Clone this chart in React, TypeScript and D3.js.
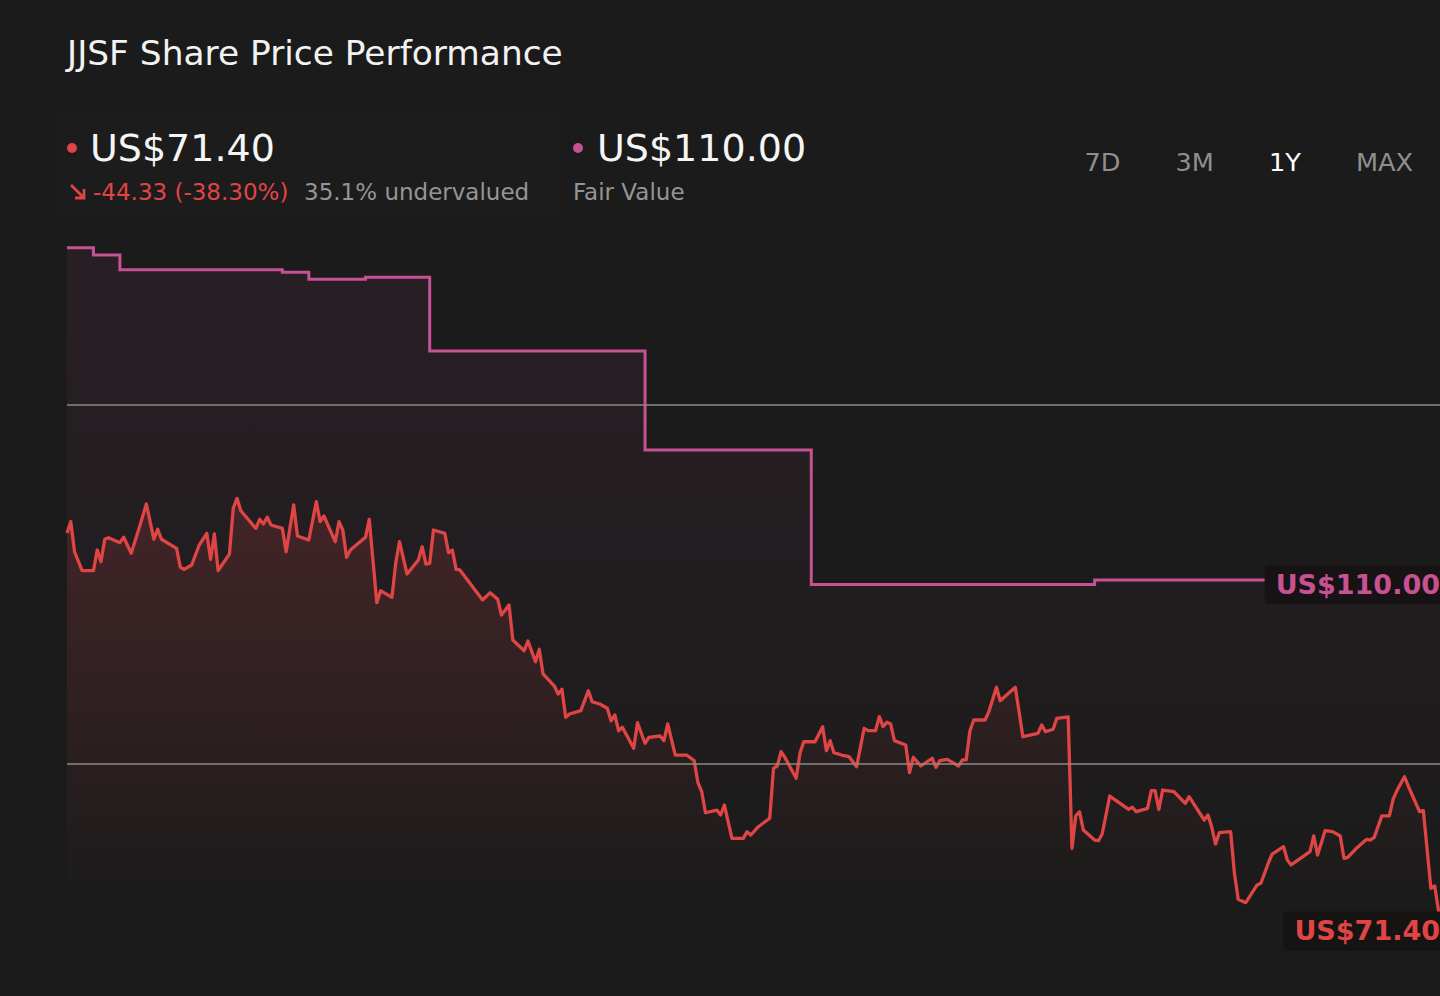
import { useEffect, useRef } from 'react';
import * as d3 from 'd3';

// header figures
const ticker = 'JJSF';
const lastPrice = 71.4;
const priceChange = -44.33;
const priceChangePct = -38.3;
const fairValueNow = 110.0;
const undervaluedPct = 35.1;
const periods = ['7D', '3M', '1Y', 'MAX'];
const activePeriod = '1Y';
const gridValues = [90, 130];

// [day of the 1Y window, close in US$]
const sharePrice: [number, number][] = [
    [0, 115.73], [1, 117.0], [2, 113.65], [4, 111.54], [7, 111.54], [8, 113.84], [9, 112.54], [10, 115.04],
    [11, 115.21], [14, 114.66], [15, 115.26], [17, 113.48], [19, 116.15], [21, 118.97], [23, 115.04], [24, 116.15],
    [25, 115.04], [29, 114.03], [30, 111.92], [31, 111.69], [33, 112.17], [35, 114.4], [37, 115.7], [38, 112.81],
    [39, 115.63], [40, 111.54], [43, 113.4], [44, 118.49], [45, 119.6], [46, 118.22], [50, 116.26], [51, 117.26],
    [52, 116.74], [53, 117.49], [54, 116.63], [57, 116.26], [58, 113.65], [60, 118.86], [61, 115.4], [64, 114.96],
    [66, 119.23], [67, 117.0], [68, 117.63], [71, 114.77], [72, 117.0], [73, 116.07], [74, 113.03], [75, 113.84],
    [79, 115.26], [80, 117.26], [82, 107.97], [83, 109.31], [86, 108.57], [87, 112.36], [88, 114.77], [90, 111.17],
    [93, 112.73], [94, 114.21], [95, 112.28], [96, 112.36], [97, 116.07], [100, 115.7], [101, 113.54], [102, 113.84],
    [103, 111.69], [104, 111.62], [110, 108.27], [112, 109.09], [114, 108.35], [115, 106.6], [117, 107.72], [118, 103.82],
    [121, 102.62], [122, 103.7], [124, 101.4], [125, 102.78], [126, 100.03], [129, 98.69], [130, 97.8], [131, 98.32],
    [132, 95.2], [133, 95.57], [136, 95.94], [138, 98.17], [139, 96.94], [141, 96.69], [143, 96.21], [144, 94.82],
    [145, 95.46], [146, 93.71], [147, 94.09], [150, 91.75], [151, 94.6], [153, 92.31], [154, 92.97], [157, 93.12],
    [158, 92.6], [159, 94.46], [161, 91.0], [164, 91.0], [166, 90.37], [167, 87.92], [168, 86.91], [169, 84.57],
    [172, 84.87], [173, 84.32], [174, 85.43], [176, 81.72], [179, 81.72], [180, 82.46], [181, 82.09], [183, 83.01],
    [186, 83.95], [187, 89.52], [188, 89.78], [189, 91.37], [190, 90.75], [193, 88.41], [194, 91.19], [195, 92.48],
    [198, 92.48], [200, 94.16], [201, 91.48], [202, 92.6], [203, 91.26], [205, 91.0], [207, 90.81], [209, 89.7],
    [210, 91.86], [211, 93.98], [212, 93.71], [214, 93.71], [215, 95.27], [216, 94.16], [217, 94.65], [218, 94.46],
    [219, 92.6], [222, 92.12], [223, 89.03], [224, 90.75], [226, 89.78], [229, 90.64], [230, 89.63], [231, 90.37],
    [233, 90.52], [236, 89.78], [237, 90.45], [238, 90.45], [239, 93.71], [240, 94.9], [243, 94.9], [244, 95.83],
    [246, 98.55], [247, 97.05], [251, 98.55], [252, 95.83], [253, 93.04], [257, 93.42], [258, 94.35], [259, 93.6],
    [261, 93.87], [262, 95.09], [265, 95.24], [266, 80.61], [267, 84.21], [268, 84.69], [269, 82.65], [272, 81.53],
    [273, 81.45], [274, 82.2], [276, 86.43], [281, 84.95], [282, 85.18], [283, 84.69], [286, 85.06], [287, 87.03],
    [288, 87.03], [289, 84.95], [290, 87.1], [293, 86.91], [296, 85.62], [297, 86.36], [301, 83.76], [302, 84.32],
    [303, 82.95], [304, 81.09], [305, 82.35], [308, 82.46], [309, 77.82], [310, 74.93], [312, 74.55], [315, 76.52],
    [316, 76.71], [318, 79.0], [319, 79.97], [322, 80.79], [323, 79.3], [324, 78.75], [329, 80.23], [330, 81.98],
    [331, 79.86], [333, 82.57], [335, 82.46], [337, 81.98], [338, 79.49], [339, 79.6], [341, 80.5], [344, 81.61],
    [345, 81.53], [346, 81.83], [348, 84.21], [350, 84.21], [351, 86.07], [352, 87.03], [354, 88.58], [355, 87.55],
    [358, 84.69], [359, 84.8], [361, 76.15], [362, 76.41], [363, 73.73], [365, 71.4],
];

// fair value estimate changes (step series)
const fairValue: [number, number][] = [
    [0, 147.53], [7, 146.71], [14, 145.08], [57, 144.79], [64, 144.0], [79, 144.23],
    [96, 136.02], [153, 125.0], [197, 110.0], [272, 110.5],
];

const W = 1440;
const H = 996;
const BG = '#1b1b1b';
const RED = '#e04545';
const PINK = '#c65193';
const GREY = '#959595';
const FONT = '"DejaVu Sans", Verdana, sans-serif';

export default function App() {
    const svgRef = useRef<SVGSVGElement>(null);

    useEffect(() => {
        if (!svgRef.current) return;
        const svg = d3.select(svgRef.current);
        svg.selectAll('*').remove();
        svg.attr('font-family', FONT);

        const x = d3.scaleLinear().domain([0, 365]).range([67, 1446]);
        const y = d3.scaleLinear().domain([90, 130]).range([764, 405]);
        const plotBottom = 900;

        svg.append('rect').attr('width', W).attr('height', H).attr('fill', BG);

        const defs = svg.append('defs');
        const grad = (id: string, color: string, top: number, op: number) => {
            const g = defs.append('linearGradient').attr('id', id)
                .attr('gradientUnits', 'userSpaceOnUse')
                .attr('x1', 0).attr('x2', 0).attr('y1', top).attr('y2', plotBottom);
            g.append('stop').attr('offset', 0).attr('stop-color', color).attr('stop-opacity', op);
            g.append('stop').attr('offset', 1).attr('stop-color', color).attr('stop-opacity', 0);
        };
        grad('fvFill', PINK, 240, 0.08);
        grad('pxFill', RED, 500, 0.17);

        // Header
        svg.append('text')
            .attr('x', 67).attr('y', 65)
            .attr('font-size', 34.4).attr('fill', '#f2f2f2')
            .text(`${ticker} Share Price Performance`);

        svg.append('rect')
            .attr('x', 58).attr('y', 114).attr('width', 500).attr('height', 100)
            .attr('fill', '#ffffff').attr('opacity', 0.007);

        svg.append('circle').attr('cx', 72).attr('cy', 148).attr('r', 5).attr('fill', RED);
        svg.append('text')
            .attr('x', 90).attr('y', 161).attr('font-size', 38).attr('fill', '#f5f5f5')
            .text(`US$${lastPrice.toFixed(2)}`);

        svg.append('path')
            .attr('d', 'M71,185 L84,198 M84,189 L84,198 L75,198')
            .attr('stroke', RED).attr('stroke-width', 2.8).attr('fill', 'none');
        svg.append('text')
            .attr('x', 93).attr('y', 200).attr('font-size', 23).attr('fill', RED)
            .text(`${priceChange.toFixed(2)} (${priceChangePct.toFixed(2)}%)`);
        svg.append('text')
            .attr('x', 304).attr('y', 200).attr('font-size', 23).attr('fill', GREY)
            .text(`${undervaluedPct.toFixed(1)}% undervalued`);

        svg.append('circle').attr('cx', 578).attr('cy', 148).attr('r', 5).attr('fill', PINK);
        svg.append('text')
            .attr('x', 597).attr('y', 161).attr('font-size', 38).attr('fill', '#f5f5f5')
            .text(`US$${fairValueNow.toFixed(2)}`);
        svg.append('text')
            .attr('x', 573).attr('y', 200).attr('font-size', 23).attr('fill', GREY)
            .text('Fair Value');

        // period selector, laid out right to left
        let right = 1413;
        [...periods].reverse().forEach(p => {
            const t = svg.append('text')
                .attr('y', 171).attr('font-size', 25.6)
                .attr('fill', p === activePeriod ? '#ffffff' : '#8f8f8f')
                .attr('text-anchor', 'end')
                .attr('x', right)
                .text(p);
            const w = (t.node() as SVGTextElement).getComputedTextLength();
            right -= w + 55;
        });

        // Series
        const fvData: [number, number][] = [...fairValue, [365, fairValue[fairValue.length - 1][1]]];

        const fvArea = d3.area<[number, number]>()
            .curve(d3.curveStepAfter)
            .x(d => x(d[0])).y0(plotBottom).y1(d => y(d[1]));
        const fvLine = d3.line<[number, number]>()
            .curve(d3.curveStepAfter)
            .x(d => x(d[0])).y(d => y(d[1]));

        const pxArea = d3.area<[number, number]>()
            .x(d => x(d[0])).y0(plotBottom).y1(d => y(d[1]));
        const pxLine = d3.line<[number, number]>()
            .x(d => x(d[0])).y(d => y(d[1]));

        svg.append('path').attr('d', fvArea(fvData)).attr('fill', 'url(#fvFill)');
        svg.append('path').attr('d', pxArea(sharePrice)).attr('fill', 'url(#pxFill)');

        svg.append('path').attr('d', fvLine(fvData))
            .attr('fill', 'none').attr('stroke', PINK).attr('stroke-width', 3);
        svg.append('path').attr('d', pxLine(sharePrice))
            .attr('fill', 'none').attr('stroke', RED).attr('stroke-width', 3.3)
            .attr('stroke-linejoin', 'round');

        // grid
        svg.append('g').selectAll('line').data(gridValues).enter().append('line')
            .attr('x1', x(0)).attr('x2', W)
            .attr('y1', d => y(d)).attr('y2', d => y(d))
            .attr('stroke', '#8b8b7e').attr('stroke-width', 1.5);

        // end labels, right edge just past the last day
        const chip = (value: number, color: string, bg: string) => {
            const g = svg.append('g');
            const rect = g.append('rect');
            const t = g.append('text')
                .attr('font-size', 27).attr('font-weight', 'bold').attr('fill', color)
                .attr('dominant-baseline', 'central')
                .attr('y', y(value))
                .text(`US$${value.toFixed(2)}`);
            const w = (t.node() as SVGTextElement).getComputedTextLength();
            const bx = x(365) + 5 - w - 22;
            t.attr('x', bx + 11);
            rect.attr('x', bx).attr('y', y(value) - 19.5).attr('width', w + 22).attr('height', 39)
                .attr('rx', 4).attr('fill', bg);
        };
        chip(fairValueNow, PINK, '#171315');
        chip(lastPrice, RED, '#161313');
    }, []);

    return (
        <div style={{ position: 'absolute', left: 0, top: 0 }}>
            <svg ref={svgRef} width={W} height={H} style={{ display: 'block' }} />
        </div>
    );
}
